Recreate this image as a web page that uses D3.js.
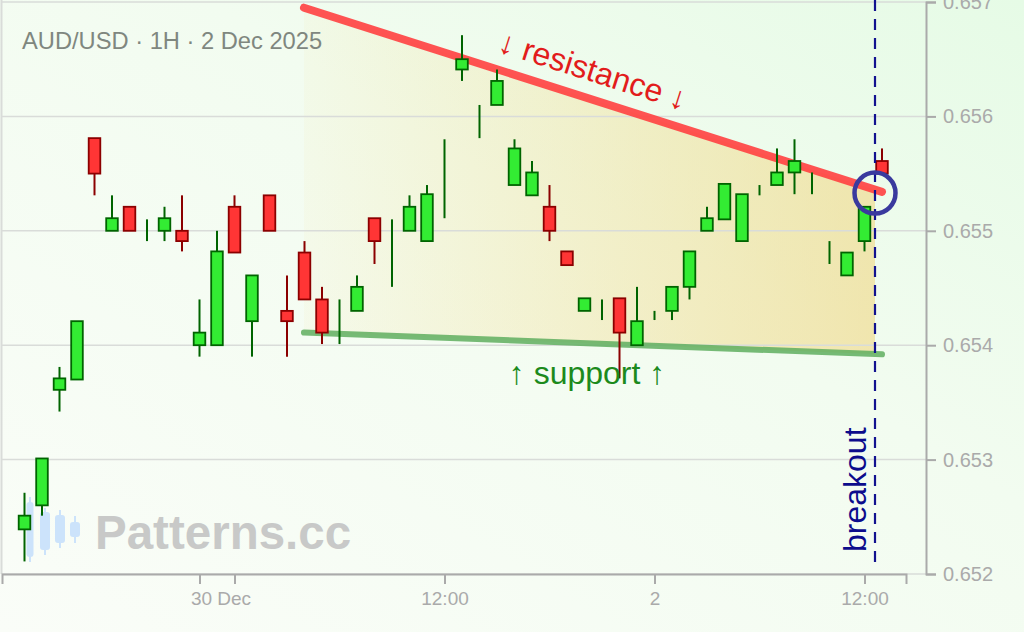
<!DOCTYPE html>
<html><head><meta charset="utf-8">
<script src="https://cdn.jsdelivr.net/npm/d3@7"></script>
<style>
html,body{margin:0;padding:0;background:#f4fcf3;}
svg{display:block;}
text{font-family:"Liberation Sans",Arial,Helvetica,sans-serif;}
</style>
</head><body>
<svg id="c" width="1024" height="632"></svg>
<script>
const title = "AUD/USD · 1H · 2 Dec 2025";
const opens  = [0.65239,0.65260,0.65361,0.65370,0.65581,0.65500,0.65521,0.65500,0.65500,0.65500,
                0.65400,0.65400,0.65521,0.65421,0.65531,0.65430,0.65481,0.65440,0.65420,0.65430,
                0.65511,0.65480,0.65500,0.65491,0.65550,0.65641,0.65600,0.65610,0.65540,0.65531,
                0.65521,0.65482,0.65430,0.65430,0.65441,0.65400,0.65425,0.65430,0.65451,0.65500,
                0.65510,0.65491,0.65535,0.65540,0.65551,0.65540,0.65480,0.65461,0.65491,0.65561];
const highs  = [0.65271,0.65301,0.65381,0.65421,0.65581,0.65531,0.65521,0.65510,0.65521,0.65531,
                0.65440,0.65500,0.65531,0.65461,0.65531,0.65461,0.65491,0.65451,0.65440,0.65461,
                0.65511,0.65510,0.65531,0.65540,0.65580,0.65671,0.65610,0.65641,0.65580,0.65561,
                0.65540,0.65482,0.65441,0.65440,0.65441,0.65451,0.65430,0.65451,0.65482,0.65521,
                0.65541,0.65532,0.65540,0.65572,0.65580,0.65551,0.65491,0.65481,0.65521,0.65572];
const lows   = [0.65211,0.65251,0.65342,0.65370,0.65531,0.65500,0.65500,0.65491,0.65491,0.65482,
                0.65390,0.65400,0.65481,0.65390,0.65500,0.65390,0.65440,0.65401,0.65401,0.65430,
                0.65471,0.65451,0.65500,0.65491,0.65511,0.65631,0.65581,0.65610,0.65540,0.65531,
                0.65491,0.65470,0.65430,0.65422,0.65371,0.65400,0.65422,0.65422,0.65440,0.65500,
                0.65510,0.65491,0.65531,0.65540,0.65532,0.65532,0.65471,0.65461,0.65482,0.65550];
const closes = [0.65251,0.65301,0.65371,0.65421,0.65550,0.65511,0.65500,0.65500,0.65511,0.65491,
                0.65411,0.65482,0.65481,0.65461,0.65500,0.65421,0.65440,0.65411,0.65420,0.65451,
                0.65491,0.65480,0.65521,0.65532,0.65550,0.65650,0.65600,0.65631,0.65572,0.65551,
                0.65500,0.65470,0.65441,0.65430,0.65411,0.65421,0.65425,0.65451,0.65482,0.65511,
                0.65541,0.65532,0.65535,0.65551,0.65561,0.65540,0.65480,0.65481,0.65521,0.65550];
const xTickValues = [10, 12, 24, 36, 48];
const xTickLabels = ["", "30 Dec", "12:00", "2", "12:00"];
const yTickValues = [0.652, 0.653, 0.654, 0.655, 0.656, 0.657];
const resistancePts = [[15.97, 0.65695], [49, 0.65534]];
const supportPts = [[15.97, 0.65411], [49, 0.65392]];
const breakoutIndex = 48.6;
const breakoutPrice = 0.65533;
const labels = {resistance: "↓ resistance ↓", support: "↑ support ↑", breakout: "breakout", watermark: "Patterns.cc"};
// decorative logo candles: [dx, wickTop, wickBottom, bodyTop, bodyBottom, width]
const logoCandles = [[30,497,562,502,557,7],[45,508,555,512,550,10],[60,510,548,515,543,10],[75,516,543,522,537,10]];

const svg = d3.select("#c");
const W = 1024, H = 632;
const x = d3.scaleLinear().domain([-1.2857, 50.3714]).range([2, 906]);
const y = d3.scaleLinear().domain([0.652, 0.657]).range([574, 2]);
const axisX = 926;

const defs = svg.append("defs");
const bg = defs.append("linearGradient").attr("id","bg").attr("x1",0).attr("y1",1).attr("x2",1).attr("y2",0);
bg.append("stop").attr("offset",0).attr("stop-color","#fafdf8");
bg.append("stop").attr("offset",0.6).attr("stop-color","#f2fcf0");
bg.append("stop").attr("offset",1).attr("stop-color","#e6fbe6");
const wg = defs.append("linearGradient").attr("id","wedge").attr("gradientUnits","userSpaceOnUse")
  .attr("x1", x(resistancePts[0][0])).attr("x2", x(breakoutIndex)).attr("y1",0).attr("y2",0);
wg.append("stop").attr("offset",0).attr("stop-color","#f3dc8a").attr("stop-opacity",0.08);
wg.append("stop").attr("offset",1).attr("stop-color","#f0d98a").attr("stop-opacity",0.64);

svg.append("rect").attr("width",W).attr("height",H).attr("fill","url(#bg)");

// wedge fill
const lineAt = (pts, i) => pts[0][1] + (pts[1][1]-pts[0][1])*(i-pts[0][0])/(pts[1][0]-pts[0][0]);
const i0 = resistancePts[0][0], i1 = breakoutIndex;
const wedge = [[i0, lineAt(resistancePts,i0)],[i1, lineAt(resistancePts,i1)],[i1, lineAt(supportPts,i1)],[i0, lineAt(supportPts,i0)]];
svg.append("path").attr("d", d3.line().x(d=>x(d[0])).y(d=>y(d[1]))(wedge)+"Z").attr("fill","url(#wedge)");

// grid
svg.append("g").selectAll("line").data(yTickValues).join("line")
  .attr("x1",2).attr("x2",axisX).attr("y1",d=>y(d)).attr("y2",d=>y(d))
  .attr("stroke","#d9dcd9").attr("stroke-width",1.5);
svg.append("line").attr("x1",1.5).attr("x2",1.5).attr("y1",0).attr("y2",574).attr("stroke","#d9dcd9").attr("stroke-width",2);

// logo + watermark
const logo = svg.append("g").attr("fill","#cce3fb").attr("stroke","#cce3fb");
logoCandles.forEach(c => {
  logo.append("line").attr("x1",c[0]).attr("x2",c[0]).attr("y1",c[1]).attr("y2",c[2]).attr("stroke-width",2);
  logo.append("rect").attr("x",c[0]-c[5]/2).attr("width",c[5]).attr("y",c[3]).attr("height",c[4]-c[3]).attr("rx",3).attr("stroke","none");
});
svg.append("text").attr("x",95).attr("y",549).attr("font-size",47.5).attr("font-weight","bold")
  .attr("fill","#c8c9c8").text(labels.watermark);

// trend lines
const tl = d3.line().x(d=>x(d[0])).y(d=>y(d[1]));
svg.append("path").attr("d", tl(supportPts)).attr("stroke","#5fae5f").attr("stroke-opacity",0.85)
  .attr("stroke-width",6).attr("stroke-linecap","round").attr("fill","none");
svg.append("path").attr("d", tl(resistancePts)).attr("stroke","#ff4040").attr("stroke-opacity",0.9)
  .attr("stroke-width",8).attr("stroke-linecap","round").attr("fill","none");

// candles
const data = opens.map((o,i)=>({i, o, h:highs[i], l:lows[i], c:closes[i]}));
const up = d => d.c >= d.o;
const cg = svg.append("g");
cg.selectAll("line").data(data).join("line")
  .attr("x1",d=>x(d.i)).attr("x2",d=>x(d.i)).attr("y1",d=>y(d.h)).attr("y2",d=>y(d.l))
  .attr("stroke",d=>up(d)?"#006400":"#8b0000").attr("stroke-width",2);
cg.selectAll("rect").data(data.filter(d=>d.c!==d.o)).join("rect")
  .attr("x",d=>x(d.i)-5.8).attr("width",11.6)
  .attr("y",d=>y(Math.max(d.o,d.c))).attr("height",d=>Math.abs(y(d.o)-y(d.c)))
  .attr("fill",d=>up(d)?"#33ec33":"#ff3535").attr("stroke",d=>up(d)?"#006400":"#8b0000").attr("stroke-width",1.8);

// axes
const yAxis = svg.append("g").attr("transform",`translate(${axisX},0)`)
  .call(d3.axisRight(y).tickValues(yTickValues).tickFormat(d3.format(".3f")).tickSize(10).tickPadding(7));
const xAxis = svg.append("g").attr("transform","translate(0,574)")
  .call(d3.axisBottom(x).tickValues(xTickValues).tickFormat((d,k)=>xTickLabels[k]).tickSize(10).tickPadding(8));
[yAxis,xAxis].forEach(a=>{
  a.selectAll("path,line").attr("stroke","#aaaaaa").attr("stroke-width",2);
  a.selectAll("text").attr("fill","#aaaaaa").attr("font-size",19).attr("font-family",'"Liberation Sans",Arial,sans-serif');
});
yAxis.selectAll("text").attr("font-size",20);
xAxis.selectAll(".tick").filter(d=>d===12).select("text").attr("x", x(11.2)-x(12));

// breakout line & circle
svg.append("line").attr("x1",x(breakoutIndex)).attr("x2",x(breakoutIndex)).attr("y1",0).attr("y2",570)
  .attr("stroke","#12128f").attr("stroke-width",2.2).attr("stroke-dasharray","11,8");
svg.append("circle").attr("cx",x(breakoutIndex)).attr("cy",y(breakoutPrice)).attr("r",20.5)
  .attr("fill","none").attr("stroke","#3a3a9e").attr("stroke-width",4.5);

// labels
svg.append("text").attr("x",22).attr("y",49).attr("font-size",23.7).attr("fill","#7f877f").text(title);
const ri = 32.0, rp = lineAt(resistancePts, ri);
const ang = Math.atan2(y(resistancePts[1][1])-y(resistancePts[0][1]), x(resistancePts[1][0])-x(resistancePts[0][0]))*180/Math.PI;
svg.append("text").attr("transform",`translate(${x(ri)},${y(rp)}) rotate(${ang})`)
  .attr("y",-17).attr("text-anchor","middle").attr("font-size",32).attr("fill","#e21c1c").text(labels.resistance);
svg.append("text").attr("x",587).attr("y",384).attr("text-anchor","middle").attr("font-size",32)
  .attr("fill","#1c8a1c").text(labels.support);
svg.append("text").attr("transform",`translate(${x(breakoutIndex)-9},552) rotate(-90)`)
  .attr("font-size",32).attr("fill","#0c0c8c").text(labels.breakout);
</script>
</body></html>
